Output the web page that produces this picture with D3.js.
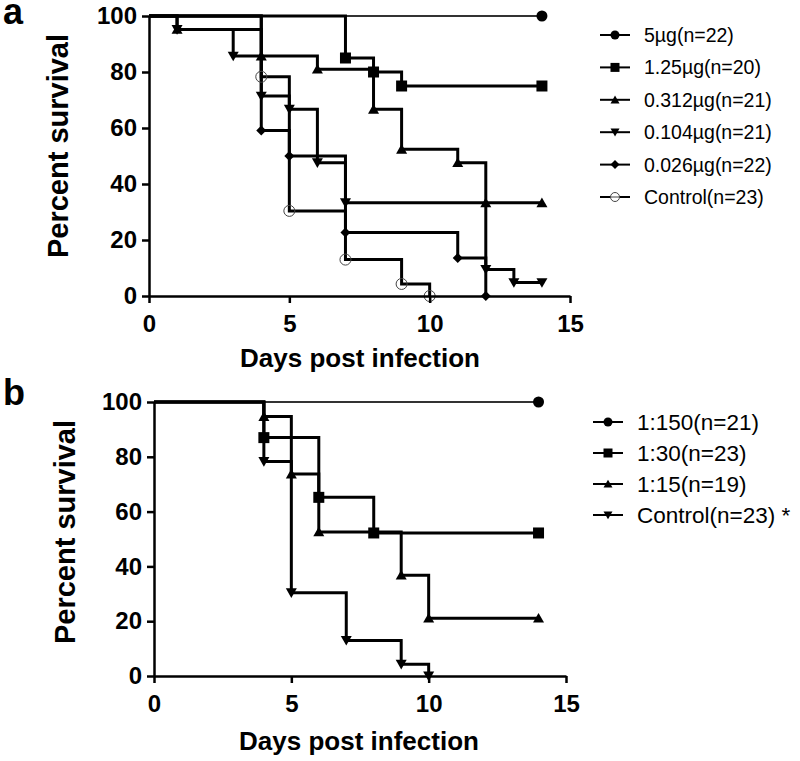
<!DOCTYPE html>
<head>
  <meta charset="utf-8">
  <script src="https://d3js.org/d3.v7.min.js"></script>
  <style>
    body { margin: 0; background: #fff; }
    svg text { font-family: "Liberation Sans", Arial, sans-serif; fill: #000; }
    .tickLabel { font-size: 24px; font-weight: bold; }
    .axisTitle { font-weight: bold; }
  </style>
</head>
<body>
<script>
  // panel a - dose groups, each series is [day, percent survival]
  var aLabels = ["5\u00b5g(n=22)", "1.25\u00b5g(n=20)", "0.312\u00b5g(n=21)", "0.104\u00b5g(n=21)", "0.026\u00b5g(n=22)", "Control(n=23)"];
  var aDose5 = [[0, 100], [14, 100]];
  var aDose125 = [[0, 100], [7, 85], [8, 80], [9, 75], [14, 75]];
  var aDose0312 = [[0, 100], [1, 95.2], [4, 85.7], [6, 81], [8, 66.7], [9, 52.4], [11, 47.6], [12, 33.3], [14, 33.3]];
  var aDose0104 = [[0, 100], [1, 95.2], [3, 85.7], [4, 71.4], [5, 66.7], [6, 47.6], [7, 33.3], [12, 9.5], [13, 4.8], [14, 4.8]];
  var aDose0026 = [[0, 100], [4, 59.1], [5, 50], [7, 22.7], [11, 13.6], [12, 0]];
  var aControl = [[0, 100], [4, 78.3], [5, 30.4], [7, 13], [9, 4.3], [10, 0]];

  // panel b - dilution groups
  var bLabels = ["1:150(n=21)", "1:30(n=23)", "1:15(n=19)", "Control(n=23) *"];
  var b150 = [[0, 100], [14, 100]];
  var b30 = [[0, 100], [4, 87], [6, 65.2], [8, 52.2], [14, 52.2]];
  var b15 = [[0, 100], [4, 94.7], [5, 73.7], [6, 52.6], [9, 36.8], [10, 21.1], [14, 21.1]];
  var bControl = [[0, 100], [4, 78.3], [5, 30.4], [7, 13], [9, 4.3], [10, 0]];

  var xTicks = [0, 5, 10, 15];
  var yTicks = [0, 20, 40, 60, 80, 100];

  var svg = d3.select("body").append("svg")
    .attr("width", 800)
    .attr("height", 761);

  // marker shapes, s = roughly the width in px
  function shapePath(shape, s) {
    var h = s / 2;
    if (shape == "circle" || shape == "open") {
      return "M" + (-h) + ",0A" + h + "," + h + " 0 1,0 " + h + ",0A" + h + "," + h + " 0 1,0 " + (-h) + ",0Z";
    }
    if (shape == "square") return "M" + (-h) + "," + (-h) + "H" + h + "V" + h + "H" + (-h) + "Z";
    if (shape == "up") return "M0," + (-h * 0.95) + "L" + h + "," + (h * 0.8) + "L" + (-h) + "," + (h * 0.8) + "Z";
    if (shape == "down") return "M0," + (h * 0.95) + "L" + h + "," + (-h * 0.8) + "L" + (-h) + "," + (-h * 0.8) + "Z";
    if (shape == "diamond") return "M0," + (-h) + "L" + h + ",0L0," + h + "L" + (-h) + ",0Z";
  }

  function drawPanel(opt) {
    var g = svg.append("g").attr("transform", "translate(" + opt.left + "," + opt.top + ")");

    var x = d3.scaleLinear().domain([0, 15]).range([0, opt.width]);
    var y = d3.scaleLinear().domain([0, 100]).range([opt.height, 0]);

    // survival steps
    opt.series.forEach(function(s, i) {
      var d = s.data;
      var p = "M" + x(d[0][0]) + "," + y(d[0][1]);
      for (var k = 1; k < d.length; k++) {
        p += "H" + x(d[k][0]) + "V" + y(d[k][1]);
      }
      g.append("path")
        .attr("d", p)
        .attr("fill", "none")
        .attr("stroke", s.thin ? "#333" : "#000")
        .attr("stroke-width", s.thin ? 2 : 3);
    });

    // markers on every step and at the end
    opt.series.forEach(function(s) {
      g.selectAll(null)
        .data(s.data.slice(1))
        .enter().append("path")
        .attr("transform", function(d) { return "translate(" + x(d[0]) + "," + y(d[1]) + ")"; })
        .attr("d", shapePath(s.shape, s.shape == "diamond" ? 10 : 11))
        .attr("fill", s.shape == "open" ? "none" : "#000")
        .attr("stroke", s.shape == "open" ? "#444" : "none")
        .attr("stroke-width", 1);
    });

    // axes
    var xAxis = g.append("g")
      .attr("transform", "translate(0," + opt.height + ")")
      .call(d3.axisBottom(x).tickValues(xTicks).tickSize(7).tickSizeOuter(0).tickPadding(12));
    var yAxis = g.append("g")
      .call(d3.axisLeft(y).tickValues(yTicks).tickSize(7).tickSizeOuter(0).tickPadding(5));

    [xAxis, yAxis].forEach(function(a) {
      a.select(".domain").attr("stroke", "#000").attr("stroke-width", 2.5);
      a.selectAll(".tick line").attr("stroke", "#000").attr("stroke-width", 2.5);
      a.selectAll(".tick text").attr("class", "tickLabel").attr("font-family", null).attr("font-size", null).attr("fill", "#000");
    });

    // axis titles
    svg.append("text")
      .attr("class", "axisTitle")
      .attr("x", opt.xTitleX)
      .attr("y", opt.xTitleY)
      .attr("text-anchor", "middle")
      .style("font-size", "26px")
      .text("Days post infection");

    svg.append("text")
      .attr("class", "axisTitle")
      .attr("transform", "translate(" + opt.yTitleX + "," + opt.yTitleY + ") rotate(-90)")
      .attr("text-anchor", "middle")
      .style("font-size", "29px")
      .text("Percent survival");

    svg.append("text")
      .attr("x", 3)
      .attr("y", opt.letterY)
      .style("font-size", "36px")
      .style("font-weight", "bold")
      .text(opt.letter);

    // legend
    var leg = svg.append("g");
    opt.series.forEach(function(s, i) {
      var ly = opt.legY + i * opt.legStep;
      leg.append("line")
        .attr("x1", opt.legX - 15).attr("x2", opt.legX + 15)
        .attr("y1", ly).attr("y2", ly)
        .attr("stroke", "#000").attr("stroke-width", 2);
      leg.append("path")
        .attr("transform", "translate(" + opt.legX + "," + ly + ")")
        .attr("d", shapePath(s.shape, 9))
        .attr("fill", s.shape == "open" ? "#fff" : "#000")
        .attr("stroke", s.shape == "open" ? "#444" : "none")
        .attr("stroke-width", 1);
      if (s.shape == "open") {
        leg.append("line")
          .attr("x1", opt.legX - 5).attr("x2", opt.legX + 5)
          .attr("y1", ly).attr("y2", ly)
          .attr("stroke", "#444").attr("stroke-width", 1);
      }
      leg.append("text")
        .attr("x", opt.legX + 29)
        .attr("y", ly)
        .attr("dy", "0.36em")
        .style("font-size", opt.legFont + "px")
        .text(opt.labels[i]);
    });
  }

  drawPanel({
    left: 149, top: 16, width: 421, height: 280,
    letter: "a", letterY: 24,
    xTitleX: 360, xTitleY: 367,
    yTitleX: 68, yTitleY: 146,
    legX: 615, legY: 35, legStep: 32.4, legFont: 19.5,
    labels: aLabels,
    series: [
      { data: aDose5, shape: "circle", thin: true },
      { data: aDose125, shape: "square" },
      { data: aDose0312, shape: "up" },
      { data: aDose0104, shape: "down" },
      { data: aDose0026, shape: "diamond" },
      { data: aControl, shape: "open" }
    ]
  });

  drawPanel({
    left: 154, top: 402, width: 412, height: 274,
    letter: "b", letterY: 405,
    xTitleX: 359, xTitleY: 750,
    yTitleX: 75, yTitleY: 532,
    legX: 608, legY: 422, legStep: 31, legFont: 22.5,
    labels: bLabels,
    series: [
      { data: b150, shape: "circle", thin: true },
      { data: b30, shape: "square" },
      { data: b15, shape: "up" },
      { data: bControl, shape: "down" }
    ]
  });
</script>
</body>
